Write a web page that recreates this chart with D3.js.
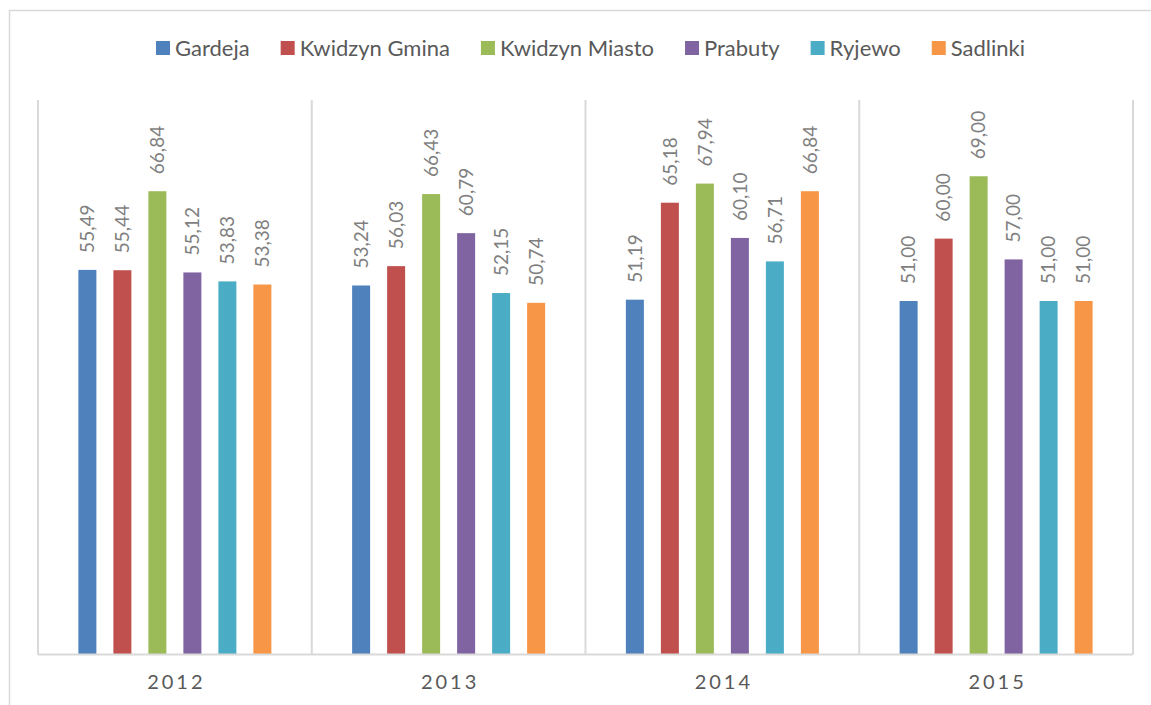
<!DOCTYPE html>
<html>
<head>
<meta charset="utf-8">
<script src="https://cdn.jsdelivr.net/npm/d3@7"></script>
<style>
  body { margin: 0; background: #fff; }
  svg { display: block; font-family: Lato, "Open Sans", sans-serif; }
</style>
</head>
<body>
<script>
// donnees
const years = ['2012', '2013', '2014', '2015'];
const gminy = ['Gardeja', 'Kwidzyn Gmina', 'Kwidzyn Miasto', 'Prabuty', 'Ryjewo', 'Sadlinki'];
const colors = ['#4f81bd', '#c0504d', '#9bbb59', '#8064a2', '#4bacc6', '#f79646'];
const gardeja = [55.49, 53.24, 51.19, 51.00];
const kwidzynGmina = [55.44, 56.03, 65.18, 60.00];
const kwidzynMiasto = [66.84, 66.43, 67.94, 69.00];
const prabuty = [55.12, 60.79, 60.10, 57.00];
const ryjewo = [53.83, 52.15, 56.71, 51.00];
const sadlinki = [53.38, 50.74, 66.84, 51.00];
const series = [gardeja, kwidzynGmina, kwidzynMiasto, prabuty, ryjewo, sadlinki];

const W = 1151, H = 705;
const margin = { top: 100, right: 18, bottom: 50.5, left: 38 };
const width = W - margin.left - margin.right,
      height = H - margin.top - margin.bottom;

const svg = d3.select('body').append('svg')
  .attr('width', W)
  .attr('height', H);

// cadre du graphique
svg.append('rect')
  .attr('x', 9.5).attr('y', 10.5)
  .attr('width', W + 20).attr('height', H + 20)
  .attr('fill', 'none')
  .attr('stroke', '#d9d9d9')
  .attr('stroke-width', 1.5);

const g = svg.append('g')
  .attr('transform', 'translate(' + margin.left + ',' + margin.top + ')');

const x0 = d3.scaleBand().domain(years).range([0, width]).padding(0);
const bw = x0.bandwidth();
const x1 = d3.scaleBand().domain(d3.range(gminy.length))
  .range([bw / 2 - 96.5, bw / 2 + 96.5])
  .paddingInner(17 / 35).paddingOuter(0);
const y = d3.scaleLinear().domain([0, 80]).range([height, 0]);

// separateurs verticaux
const seps = years.map(d => x0(d)).concat([width]);
g.selectAll('.sep').data(seps).join('line')
  .attr('class', 'sep')
  .attr('x1', d => d).attr('x2', d => d)
  .attr('y1', 0).attr('y2', height)
  .attr('stroke', '#d9d9d9').attr('stroke-width', 2);

const groups = g.selectAll('.year').data(years).join('g')
  .attr('class', 'year')
  .attr('transform', d => 'translate(' + x0(d) + ',0)');

groups.each(function(yr, yi) {
  const gg = d3.select(this);
  const vals = series.map((s, si) => ({ si: si, v: s[yi] }));
  gg.selectAll('rect').data(vals).join('rect')
    .attr('x', d => x1(d.si))
    .attr('y', d => y(d.v))
    .attr('width', x1.bandwidth())
    .attr('height', d => height - y(d.v))
    .attr('fill', d => colors[d.si]);
  gg.selectAll('text').data(vals).join('text')
    .attr('transform', d => 'translate(' + (x1(d.si) + x1.bandwidth() / 2) + ',' + (y(d.v) - 17) + ') rotate(-90)')
    .attr('dy', '0.35em')
    .attr('fill', '#7f7f7f')
    .style('font-size', '19px')
    .text(d => d.v.toFixed(2).replace('.', ','));
});

// axe X
g.append('line')
  .attr('x1', 0).attr('x2', width)
  .attr('y1', height).attr('y2', height)
  .attr('stroke', '#d9d9d9').attr('stroke-width', 2);

g.selectAll('.ylab').data(years).join('text')
  .attr('class', 'ylab')
  .attr('x', d => x0(d) + bw / 2 + 1.5)
  .attr('y', height + 34.5)
  .attr('text-anchor', 'middle')
  .attr('fill', '#595959')
  .style('font-size', '20px')
  .style('letter-spacing', '3px')
  .text(d => d);

// legende
const legend = svg.append('g');
const items = legend.selectAll('g').data(gminy).join('g');
items.append('rect')
  .attr('width', 14).attr('height', 14)
  .attr('y', 41)
  .attr('fill', (d, i) => colors[i]);
items.append('text')
  .attr('x', 19).attr('y', 55.5)
  .attr('fill', '#595959')
  .style('font-size', '22px')
  .text(d => d);
let pos = 0;
items.each(function() {
  const t = d3.select(this).select('text').node().getComputedTextLength();
  d3.select(this).attr('transform', 'translate(' + pos + ',0)');
  pos += 19 + t + 31;
});
const total = pos - 31;
legend.attr('transform', 'translate(' + (590.5 - total / 2) + ',0)');
</script>
</body>
</html>
